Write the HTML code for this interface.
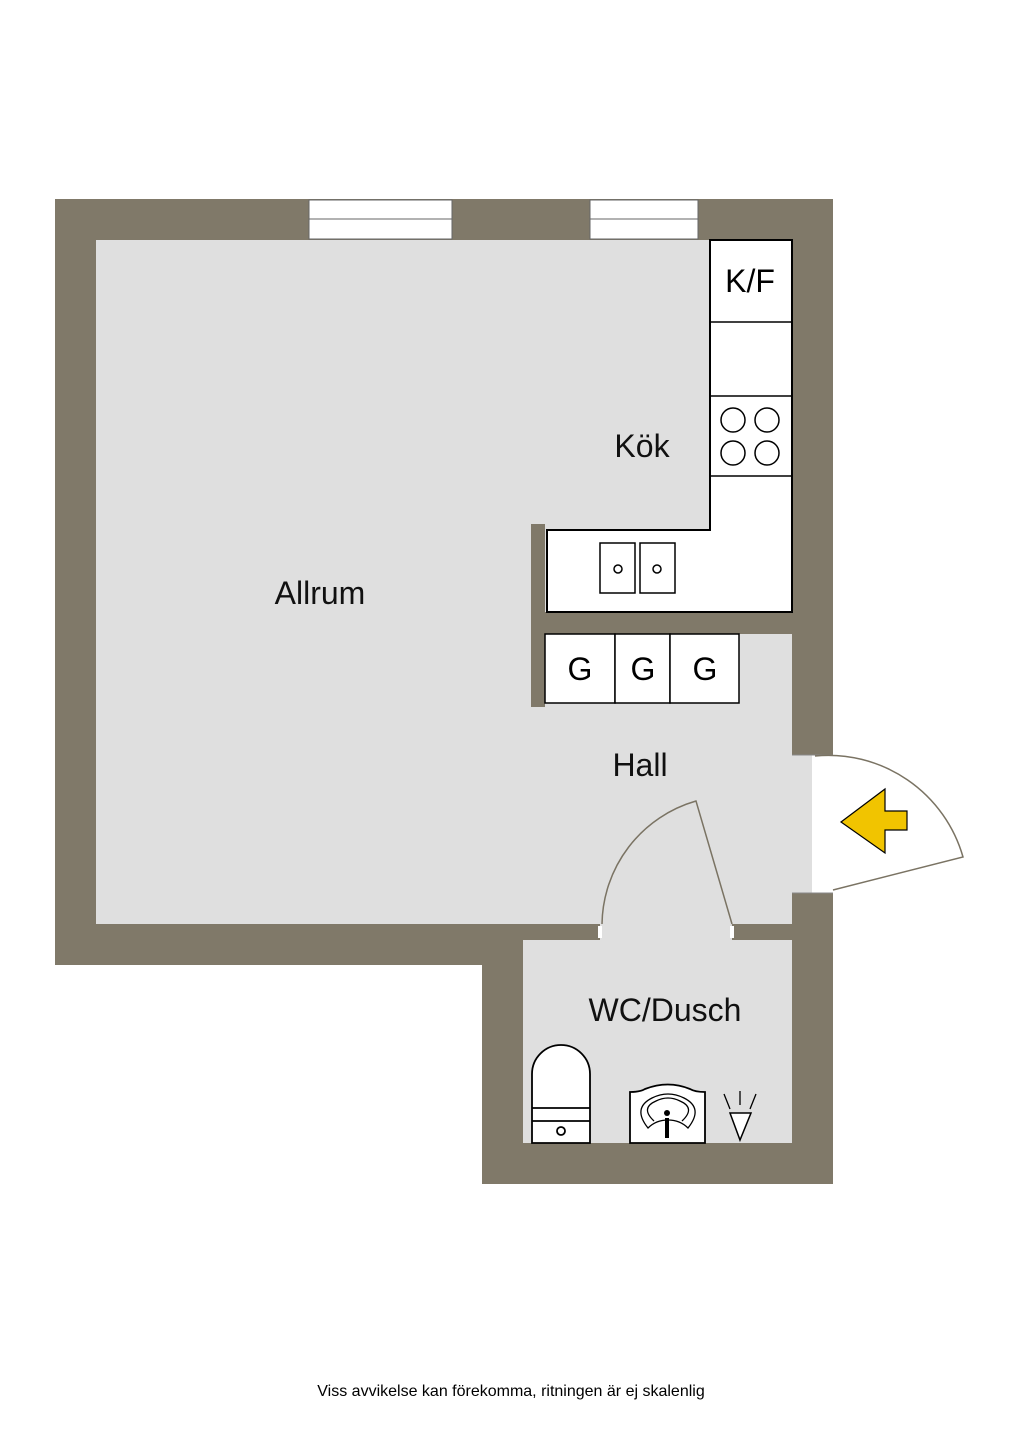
<!DOCTYPE html>
<html><head><meta charset="utf-8"><style>
html,body{margin:0;padding:0;background:#fff;}
svg{display:block;font-family:"Liberation Sans",Arial,sans-serif;}
</style></head><body>
<svg width="1024" height="1448" viewBox="0 0 1024 1448" xmlns="http://www.w3.org/2000/svg">
<rect x="55" y="199" width="778" height="766" fill="#807969"/>
<rect x="482" y="940" width="351" height="244" fill="#807969"/>
<rect x="96" y="240" width="696" height="684" fill="#dfdfdf"/>
<rect x="523" y="940" width="269" height="203" fill="#dfdfdf"/>
<rect x="792" y="755" width="41" height="138" fill="#fff"/>
<rect x="792" y="755" width="20" height="138" fill="#dfdfdf"/>
<line x1="792" y1="755" x2="833" y2="755" stroke="#888" stroke-width="1"/>
<line x1="792" y1="893" x2="833" y2="893" stroke="#888" stroke-width="1"/>
<rect x="309" y="200" width="143" height="39" fill="#fff" stroke="#666" stroke-width="1"/>
<line x1="309" y1="219" x2="452" y2="219" stroke="#666"/>
<rect x="590" y="200" width="108" height="39" fill="#fff" stroke="#666" stroke-width="1"/>
<line x1="590" y1="219" x2="698" y2="219" stroke="#666"/>
<rect x="531" y="524" width="14" height="183" fill="#807969"/>
<rect x="544" y="612" width="248" height="22" fill="#807969"/>
<path d="M710 240 H792 V612 H547 V530 H710 Z" fill="#fff" stroke="#000" stroke-width="2"/>
<line x1="710" y1="322" x2="792" y2="322" stroke="#000" stroke-width="1.5"/>
<line x1="710" y1="396" x2="792" y2="396" stroke="#000" stroke-width="1.5"/>
<line x1="710" y1="476" x2="792" y2="476" stroke="#000" stroke-width="1.5"/>
<g fill="none" stroke="#000" stroke-width="1.5">
<circle cx="733" cy="420" r="12"/><circle cx="767" cy="420" r="12"/>
<circle cx="733" cy="453" r="12"/><circle cx="767" cy="453" r="12"/>
<rect x="600" y="543" width="35" height="50"/><rect x="640" y="543" width="35" height="50"/>
<circle cx="618" cy="569" r="4"/><circle cx="657" cy="569" r="4"/>
</g>
<text x="750" y="292" font-size="32" text-anchor="middle">K/F</text>
<g fill="#fff" stroke="#000" stroke-width="1.5">
<rect x="545" y="634" width="70" height="69"/><rect x="615" y="634" width="55" height="69"/><rect x="670" y="634" width="69" height="69"/>
</g>
<g font-size="32" text-anchor="middle"><text x="580" y="680">G</text><text x="643" y="680">G</text><text x="705" y="680">G</text></g>
<rect x="523" y="924" width="269" height="16" fill="#807969"/>
<rect x="600" y="924" width="132" height="16" fill="#dfdfdf"/>
<rect x="598" y="926" width="4" height="12" fill="#fff"/>
<rect x="730" y="926" width="4" height="12" fill="#fff"/>
<path d="M602 924 A130 130 0 0 1 696 801 L732 924" fill="none" stroke="#7a7363" stroke-width="1.5"/>
<path d="M815 756 A140 140 0 0 1 963 857 L833 890" fill="none" stroke="#7a7363" stroke-width="1.5"/>
<polygon points="841,822 885,789 885,811 907,811 907,830 885,830 885,853" fill="#f1c400" stroke="#000" stroke-width="1.2"/>
<g fill="#fff" stroke="#000" stroke-width="1.8">
<path d="M532 1143 V1074 A29 29 0 0 1 590 1074 V1143 Z"/>
<line x1="532" y1="1108" x2="590" y2="1108"/><line x1="532" y1="1121" x2="590" y2="1121"/>
<circle cx="561" cy="1131" r="4"/>
<path d="M630 1143 V1092 Q640 1092 645 1089 Q668 1080 690 1089 Q695 1092 705 1092 V1143 Z"/>
<path d="M648 1128 Q632 1108 652 1098 Q668 1090 684 1098 Q704 1108 688 1128 Q680 1120 668 1120 Q656 1120 648 1128 Z" stroke-width="1.3"/>
<path d="M654 1121 Q640 1108 656 1101 Q668 1095 680 1101 Q696 1108 682 1121" fill="none" stroke-width="1.3"/>
<polygon points="730,1113 751,1113 740,1140" stroke-width="1.5"/>
</g>
<circle cx="667" cy="1113" r="3" fill="#000"/>
<rect x="665" y="1118" width="4" height="20" fill="#000"/>
<g stroke="#000" stroke-width="1.3"><line x1="740" y1="1091" x2="740" y2="1105"/><line x1="724" y1="1094" x2="730" y2="1109"/><line x1="756" y1="1094" x2="750" y2="1109"/></g>
<g font-size="32" text-anchor="middle" fill="#111">
<text x="320" y="604">Allrum</text>
<text x="642" y="457">Kök</text>
<text x="640" y="776">Hall</text>
<text x="665" y="1021">WC/Dusch</text>
</g>
<text x="511" y="1396" font-size="16" text-anchor="middle">Viss avvikelse kan förekomma, ritningen är ej skalenlig</text>
</svg>
</body></html>
